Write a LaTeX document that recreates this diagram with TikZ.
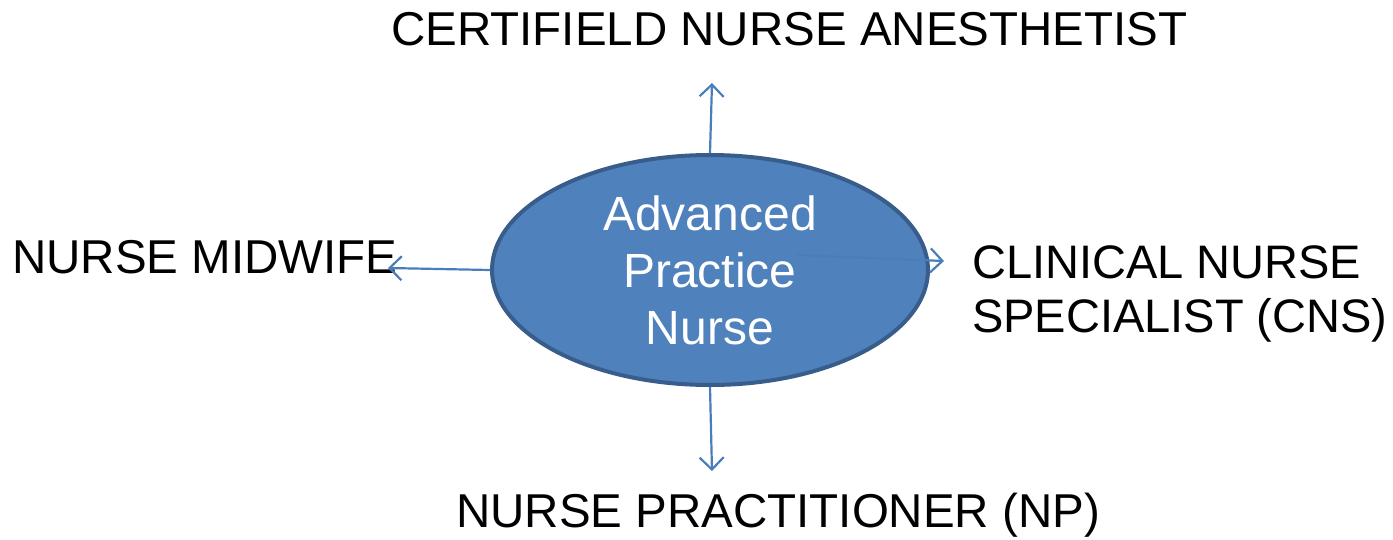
\documentclass[tikz,border=0pt]{standalone}
\usepackage{fontspec}
\setmainfont{Liberation Sans}
\usetikzlibrary{arrows.meta,shapes.geometric}
\definecolor{apfill}{HTML}{4F81BD}
\definecolor{apborder}{HTML}{385D8A}
\definecolor{arrowc}{HTML}{4A7EBB}
\tikzset{
  lbl/.style={anchor=base west, inner sep=0pt, font=\fontsize{47.5}{55}\selectfont, text=black},
  conn/.style={draw=arrowc, line width=2.2pt, -{Straight Barb[length=12pt,width=24pt,line width=2.2pt]}},
}
\begin{document}
\begin{tikzpicture}[x=1pt,y=-1pt]
\useasboundingbox (0,0) rectangle (1393,539);
\node[ellipse, fill=apfill, draw=apborder, line width=4pt, minimum width=436pt, minimum height=230pt, inner sep=0pt,
      align=center, text=white, font=\fontsize{48}{57}\selectfont] (apn) at (710,270) {Advanced\\Practice\\Nurse};
\node[lbl] (crna) at (391,45) {CERTIFIELD NURSE ANESTHETIST};
\node[lbl] (cnm) at (12,273) {NURSE MIDWIFE};
\node[lbl, align=left, font=\fontsize{47}{54}\selectfont] (cns) at (972,332) {CLINICAL NURSE\\SPECIALIST (CNS)};
\node[lbl] (np) at (456,527) {NURSE PRACTITIONER (NP)};
\coordinate (topend) at (712,83);
\coordinate (leftend) at (388,268);
\coordinate (rightstart) at (797,255);
\coordinate (rightend) at (944,261);
\coordinate (botend) at (712,471);
\draw[conn] (apn.north) -- (topend);
\draw[conn] (apn.west) -- (leftend);
\draw[conn] (rightstart) -- (rightend);
\draw[conn] (apn.south) -- (botend);
\end{tikzpicture}
\end{document}
